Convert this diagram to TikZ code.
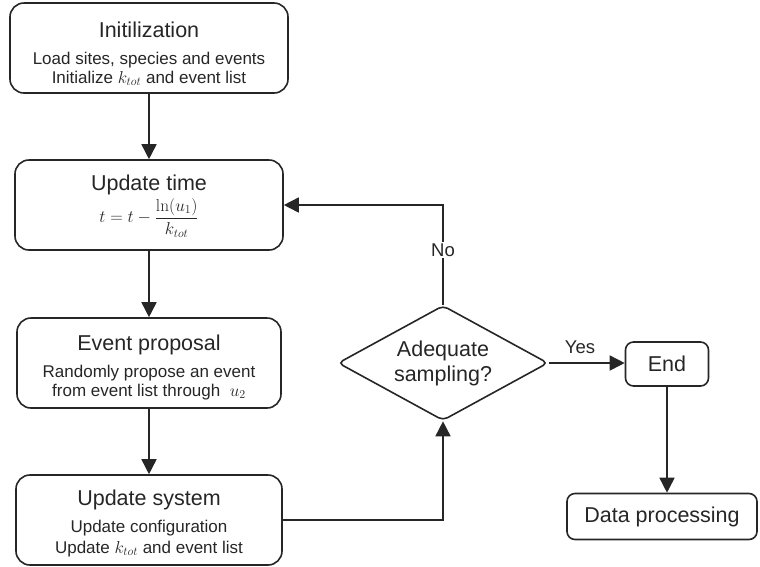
\documentclass[tikz,border=0pt]{standalone}
\usepackage[no-math]{fontspec}
\setmainfont{Liberation Sans}
\usetikzlibrary{arrows.meta,shapes.geometric}
\begin{document}
\begin{tikzpicture}[x=1pt,y=-1pt,
  every node/.style={text=black!85},
  box/.style={draw=black!85,line width=1.6pt,rounded corners=14pt,align=center,inner sep=0pt,font=\fontsize{17}{19}\selectfont},
  smallbox/.style={draw=black!85,line width=1.6pt,rounded corners=8pt,align=center,inner sep=0pt,font=\fontsize{21.5}{25}\selectfont},
  decision/.style={draw=black!85,line width=1.6pt,shape=diamond,rounded corners=5pt,aspect=1.83,inner sep=0pt,align=center,font=\fontsize{21.5}{25}\selectfont},
  flow/.style={draw=black!85,line width=1.6pt,-{Triangle[length=15pt,width=15pt]}},
  lbl/.style={font=\fontsize{18.5}{20}\selectfont,fill=white,inner sep=2pt}]
\useasboundingbox (0,0) rectangle (760,566);
\newcommand{\ttl}{\fontsize{21.5}{24}\selectfont}
\newcommand{\lift}[1]{\rule{0pt}{#1}}
\node[box,minimum width=278pt,minimum height=90pt] (init) at (149,48)
  {{\ttl\lift{27pt}Initilization}\\[8pt]Load sites, species and events\\Initialize $k_{tot}$ and event list};
\node[box,minimum width=268pt,minimum height=90pt] (time) at (149,205)
  {{\ttl\lift{18pt}Update time}\\[2pt]{\fontsize{18.5}{20}\selectfont $\displaystyle t=t-\frac{\ln(u_1)}{k_{tot}}$}};
\node[box,minimum width=264pt,minimum height=90pt] (prop) at (149,363)
  {{\ttl\lift{24pt}Event proposal}\\[8pt]Randomly propose an event\\from event list through\ \ $u_2$};
\node[box,minimum width=266pt,minimum height=90pt] (sys) at (149,520)
  {{\ttl\lift{22pt}Update system}\\[8pt]Update configuration\\[2pt]Update $k_{tot}$ and event list};
\node[decision,minimum width=210pt,minimum height=115pt] (dec) at (443,363)
  {Adequate\\sampling?};
\node[smallbox,minimum width=83pt,minimum height=44pt] (end) at (667,364) {End};
\node[smallbox,minimum width=190pt,minimum height=46pt] (data) at (662,516.5) {Data processing};
\coordinate (turn) at (443,205);
\coordinate (low) at (443,520);
\draw[flow] (init.south -| time.north) -- (time.north);
\draw[flow] (time.south) -- (time.south |- prop.north);
\draw[flow] (prop.south) -- (prop.south |- sys.north);
\draw[flow] (sys.east) -- (low) -- (dec.south);
\draw[flow] (dec.north) -- (turn) -- (time.east);
\node[lbl] (no) at (443,250) {No};
\draw[flow] (dec.east) -- (dec.east -| end.west);
\node[font=\fontsize{18.5}{20}\selectfont] (yes) at (580,347) {Yes};
\draw[flow] (end.south) -- (end.south |- data.north);
\end{tikzpicture}
\end{document}
